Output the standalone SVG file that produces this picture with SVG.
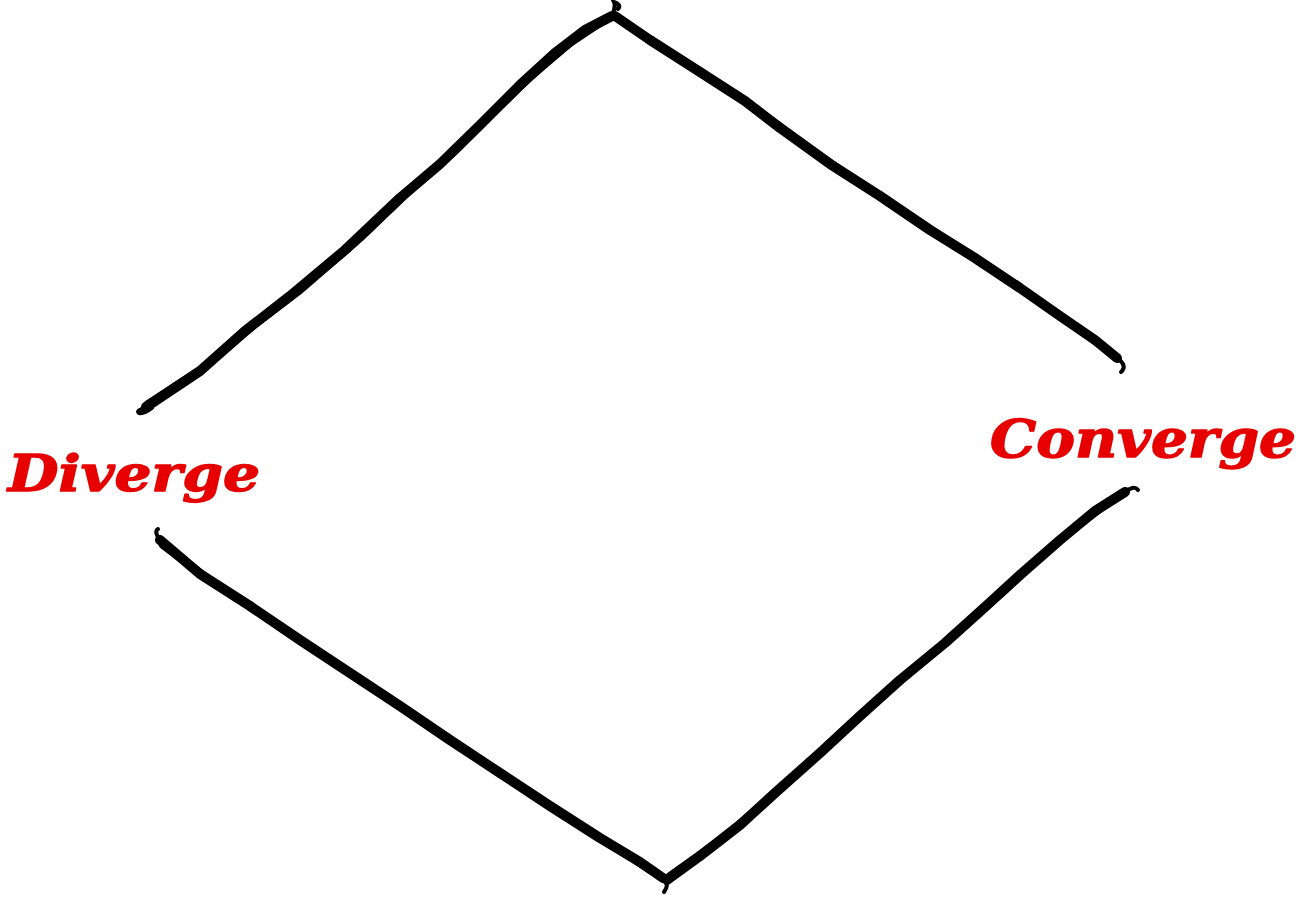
<svg xmlns="http://www.w3.org/2000/svg" width="1301" height="899" viewBox="0 0 1301 899">
<style>
.brush{fill:none;stroke:#000;stroke-linecap:round;stroke-linejoin:round}
.w1{stroke-width:10}
.w2{stroke-width:8}
.curl{fill:none;stroke:#000;stroke-width:4;stroke-linecap:round}
.lbl{font-family:"DejaVu Serif","Liberation Serif",serif;font-weight:bold;font-style:italic;fill:#e60000;stroke:#e60000;stroke-width:1.4;stroke-linejoin:round}
</style>
<rect width="1301" height="899" fill="#fff"/>
<g id="connectors">
<g id="edge-top-left">
<path class="brush w1" d="M146,407 L200,371 L245,331 L290,296 L345,250 L400,198 L440,164 L480,125 L520,85 L555,53 L585,30 L612,16"/>
<path class="brush w2" d="M148,404 L205,367 L255,324 L300,290 L360,238 L410,190 L455,151 L495,111 L530,77 L570,43 L600,23"/>
<path class="curl" d="M146,407 C140,410 136,411 139,413 C143,414 148,411 152,408"/>
</g>
<g id="edge-top-right">
<path class="brush w1" d="M615,16 L650,40 L700,72 L745,101 L780,128 L830,164 L880,196 L930,230 L975,258 L1020,288 L1060,316 L1095,340 L1117,358"/>
<path class="brush w2" d="M620,20 L665,49 L715,81 L760,112 L800,141 L850,177 L900,209 L950,242 L1000,274 L1040,302 L1080,330 L1110,352"/>
<path class="curl" d="M612,16 C614,10 616,6 614,2 C618,3 621,6 618,9"/>
<path class="curl" d="M1117,358 C1124,363 1126,368 1121,372"/>
</g>
<g id="edge-bottom-left">
<path class="brush w1" d="M160,540 L200,574 L250,606 L300,640 L350,673 L400,706 L450,740 L500,773 L550,806 L600,838 L640,862 L663,878"/>
<path class="brush w2" d="M163,545 L215,584 L265,616 L315,650 L365,683 L415,716 L465,750 L515,783 L565,815 L615,847 L650,870"/>
<path class="curl" d="M160,540 C156,535 155,531 158,529"/>
</g>
<g id="edge-bottom-right">
<path class="brush w1" d="M667,880 L700,856 L740,825 L775,793 L820,753 L860,716 L900,680 L945,643 L985,607 L1020,575 L1060,540 L1095,511 L1125,492"/>
<path class="brush w2" d="M670,876 L715,844 L755,811 L795,775 L840,734 L880,698 L925,660 L965,625 L1005,590 L1040,557 L1080,524 L1110,501"/>
<path class="curl" d="M1125,492 C1130,488 1135,486 1138,490"/>
<path class="curl" d="M665,880 C668,884 667,888 664,892"/>
</g>
</g>
<g id="node-diverge">
<text class="lbl" x="8" y="491" font-size="51" textLength="252" lengthAdjust="spacingAndGlyphs">Diverge</text>
</g>
<g id="node-converge">
<text class="lbl" x="990" y="457" font-size="53" textLength="306" lengthAdjust="spacingAndGlyphs">Converge</text>
</g>
</svg>
